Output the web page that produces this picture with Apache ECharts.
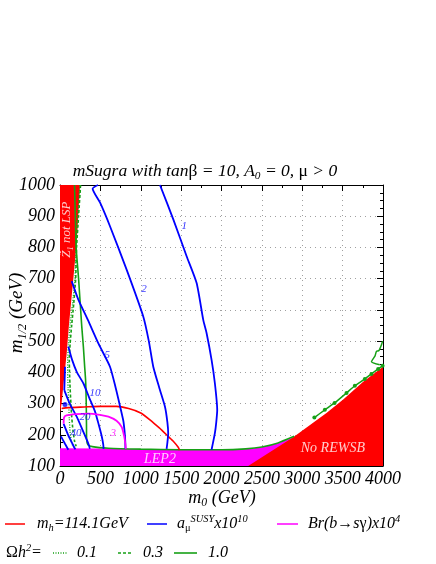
<!DOCTYPE html>
<html>
<head>
<meta charset="utf-8">
<script src="https://cdn.jsdelivr.net/npm/echarts@6.0.0/dist/echarts.min.js"></script>
<style>html,body{margin:0;padding:0;background:#fff;}#chart{width:436px;height:564px;}</style>
</head>
<body>
<div id="chart"></div>
<script>
// ---------------- data (m0, m1/2) in GeV ----------------
const xMin = 0, xMax = 4000, xStep = 500;
const yMin = 100, yMax = 1000, yStep = 100;

const stauRegion  = [[0,270],[20,300],[40,354],[83,461],[111,552],[165,700],[205,810],[248,1000],[0,1000]];
const lep2Region  = [[0,100],[0,157],[500,156],[1000,154],[1500,152],[2000,152],[2300,154],[2500,160],[2700,173],[2900,193],[3000,205],[3000,100]];
const rewsbRegion = [[2330,100],[2888,192],[3300,270],[3507,313],[3755,370],[4000,418],[4000,100]];

const mhContour = [[20,284],[100,287],[300,289],[500,291],[700,291],[850,284],[1000,270],[1114,248],[1230,222],[1320,200],[1400,180],[1464,160],[1480,151]];

const amu1  = [[1238,1000],[1403,890],[1568,772],[1692,686],[1774,568],[1815,526],[1877,440],[1918,365],[1947,279],[1935,240],[1918,205],[1877,152]];
const amu2  = [[470,1000],[404,988],[495,944],[619,868],[825,729],[1031,579],[1100,500],[1155,418],[1230,350],[1300,290],[1330,240],[1340,204],[1330,175],[1320,155]];
const amu5  = [[145,692],[227,633],[345,568],[480,490],[619,418],[690,350],[745,290],[784,245],[800,210],[808,180],[810,155]];
const amu10 = [[103,483],[150,440],[210,400],[289,365],[360,320],[433,275],[480,232],[516,196],[535,170],[540,155]];
const amu20 = [[53,343],[120,300],[207,258],[280,215],[330,185],[360,165],[370,155]];
const amuEdge = [[62,418],[58,380],[53,343]];
const amu40a = [[12,195],[60,172],[103,152]];
const amu40b = [[45,235],[100,200],[160,168],[190,153]];
const amuDot = [[62,297]];

const bsg3 = [[45,235],[50,255],[80,262],[200,266],[350,268],[495,264],[600,258],[700,245],[763,225],[795,195],[810,170],[815,155]];

const omega01 = [[245,1000],[220,900],[198,800],[185,700],[155,620],[125,552],[105,490],[95,440],[95,400],[100,350],[108,300],[115,250],[125,210],[140,180],[160,163]];
const omega03 = [[255,1000],[230,900],[205,800],[194,700],[170,620],[145,552],[125,490],[115,440],[118,400],[125,350],[135,300],[145,258],[160,215],[180,180],[200,163]];
const omega10 = [[180,1000],[190,900],[200,800],[230,700],[268,552],[290,480],[305,420],[318,370],[325,300],[328,230],[330,185],[345,168],[400,162],[600,157],[1000,154],[1500,152],[2000,152],[2300,155],[2500,161],[2700,174],[2900,195]];
const omegaFocus = [[3150,255],[3280,280],[3400,302],[3548,334],[3651,357],[3775,379],[3857,395],[3940,411],[3995,421]];
const omegaWiggle = [[3960,424],[3857,434],[3900,452],[3919,467],[3950,470],[3981,488],[3995,500]];

const amuLabels = [[1540,868,'1'],[1040,665,'2'],[585,456,'5'],[433,335,'10'],[309,256,'20'],[198,204,'40']];
const bsgLabels = [[660,204,'3']];
const regionLabels = [[3379,157,'No REWSB'],[1238,121,'LEP2']];
const stauLabel = [[87,857]];

// ---------------- styling ----------------
const FONT = '"Liberation Serif", "Times New Roman", serif';
const RED = '#ff0000', BLUE = '#0000ff', MAG = '#ff00ff', GREEN = '#16a016';

function richSet(size, color) {
  const base = {fontFamily: FONT, color: color, fontSize: size, lineHeight: size * 1.2};
  return {
    a: Object.assign({}, base, {fontStyle: 'italic'}),
    u: Object.assign({}, base, {fontStyle: 'normal'}),
    s: Object.assign({}, base, {fontStyle: 'italic', fontSize: size * 0.65, lineHeight: size * 0.5, verticalAlign: 'bottom'}),
    us: Object.assign({}, base, {fontStyle: 'normal', fontSize: size * 0.65, lineHeight: size * 0.5, verticalAlign: 'bottom'}),
    p: Object.assign({}, base, {fontStyle: 'italic', fontSize: size * 0.65, lineHeight: size * 0.5, verticalAlign: 'top'})
  };
}

function regionSeries(name, pts, color, z) {
  return {
    name: name, type: 'custom', coordinateSystem: 'cartesian2d', data: pts, z: z,
    silent: true, clip: true, animation: false,
    renderItem: function (params, api) {
      if (params.dataIndex !== 0) return;
      const points = pts.map(function (p) { return api.coord(p); });
      return {type: 'polygon', shape: {points: points}, style: {fill: color}};
    }
  };
}
function lineSeries(name, pts, color, width, type, z) {
  return {
    name: name, type: 'line', data: pts, symbol: 'none', showSymbol: false, smooth: 0.2,
    lineStyle: {color: color, width: width, type: type}, z: z, silent: true, animation: false, clip: true
  };
}
function labelSeries(list, color, size, z) {
  return {
    type: 'scatter', symbolSize: 0, z: z, silent: true, animation: false,
    data: list.map(function (l) { return {value: [l[0], l[1]], name: l[2]}; }),
    label: {show: true, position: 'inside', formatter: '{a|{b}}', rich: richSet(size, color)}
  };
}

const axisLineStyle = {show: true, onZero: false, lineStyle: {color: '#000', width: 1}};
const gridDots = {show: true, lineStyle: {color: '#a0a0a0', type: [1, 4], width: 1}};
const tickLabel = {showMinLabel: true, showMaxLabel: true,
  formatter: function (v) { return '{a|' + v + '}'; }, rich: richSet(18, '#000')};

const chart = echarts.init(document.getElementById('chart'), null, {renderer: 'canvas'});

const option = {
  animation: false,
  backgroundColor: '#fff',
  grid: {left: 60, right: 53, top: 185, bottom: 98, containLabel: false},
  xAxis: [
    {type: 'value', position: 'bottom', min: xMin, max: xMax, interval: xStep,
     axisLine: axisLineStyle, axisTick: {inside: true, length: 6, lineStyle: {color: '#000'}},
     minorTick: {show: true, splitNumber: 2, length: 3, lineStyle: {color: '#000'}},
     axisLabel: Object.assign({margin: 2}, tickLabel), splitLine: gridDots},
    {type: 'value', position: 'top', min: xMin, max: xMax, interval: xStep,
     axisLine: axisLineStyle, axisTick: {inside: true, length: 6, lineStyle: {color: '#000'}},
     minorTick: {show: true, splitNumber: 2, length: 3, lineStyle: {color: '#000'}},
     axisLabel: {show: false}, splitLine: {show: false}}
  ],
  yAxis: [
    {type: 'value', position: 'left', min: yMin, max: yMax, interval: yStep,
     axisLine: axisLineStyle, axisTick: {inside: true, length: 6, lineStyle: {color: '#000'}},
     minorTick: {show: true, splitNumber: 4, length: 3, lineStyle: {color: '#000'}},
     axisLabel: Object.assign({margin: 5}, tickLabel), splitLine: gridDots},
    {type: 'value', position: 'right', min: yMin, max: yMax, interval: yStep,
     axisLine: axisLineStyle, axisTick: {inside: true, length: 6, lineStyle: {color: '#000'}},
     minorTick: {show: true, splitNumber: 4, length: 3, lineStyle: {color: '#000'}},
     axisLabel: {show: false}, splitLine: {show: false}}
  ],
  series: [
    regionSeries('LEP2', lep2Region, MAG, 1),
    regionSeries('No REWSB', rewsbRegion, RED, 2),
    regionSeries('stau LSP', stauRegion, RED, 2),
    lineSeries('mh', mhContour, RED, 1.6, 'solid', 5),
    lineSeries('amu1', amu1, BLUE, 1.8, 'solid', 5),
    lineSeries('amu2', amu2, BLUE, 1.8, 'solid', 5),
    lineSeries('amu5', amu5, BLUE, 1.8, 'solid', 5),
    lineSeries('amu10', amu10, BLUE, 1.8, 'solid', 5),
    lineSeries('amu20', amu20, BLUE, 1.8, 'solid', 5),
    lineSeries('amuEdge', amuEdge, BLUE, 1.8, 'solid', 5),
    lineSeries('amu40a', amu40a, BLUE, 1.8, 'solid', 5),
    lineSeries('amu40b', amu40b, BLUE, 1.8, 'solid', 5),
    lineSeries('bsg3', bsg3, MAG, 1.8, 'solid', 5),
    lineSeries('omega01', omega01, GREEN, 1.3, [1, 1.5], 4),
    lineSeries('omega03', omega03, GREEN, 1.6, [3, 2], 4),
    lineSeries('omega10', omega10, GREEN, 1.6, 'solid', 4),
    {type: 'line', data: omegaFocus, symbol: 'circle', symbolSize: 4, showSymbol: true, smooth: 0.2,
     itemStyle: {color: GREEN}, lineStyle: {color: GREEN, width: 1.5}, z: 4, silent: true, animation: false},
    lineSeries('omegaWiggle', omegaWiggle, GREEN, 1.5, 'solid', 4),
    {type: 'scatter', data: amuDot, symbol: 'circle', symbolSize: 5, itemStyle: {color: BLUE}, z: 6, silent: true, animation: false},
    labelSeries(amuLabels, BLUE, 11, 8),
    labelSeries(bsgLabels, MAG, 11, 8),
    labelSeries(regionLabels, '#ffffff', 14, 8),
    {type: 'scatter', symbolSize: 0, z: 8, silent: true, animation: false,
     data: stauLabel.map(function (p) { return {value: p}; }),
     label: {show: true, position: 'inside', rotate: 90,
       formatter: '{a|Z̃}{s|1}{a| not LSP}', rich: richSet(13, '#ffffff')}}
  ],
  graphic: [
    // title
    {type: 'text', x: 205, y: 171, silent: true,
     style: {text: '{a|mSugra with tan}{u|β}{a| = 10, A}{s|0}{a| = 0, }{u|μ}{a| > 0}', rich: richSet(17.5, '#000'), align: 'center', verticalAlign: 'middle'}},
    // y axis name
    {type: 'text', x: 17, y: 313, rotation: Math.PI / 2, silent: true,
     style: {text: '{a|m}{s|1/2}{a| (GeV)}', rich: richSet(19, '#000'), align: 'center', verticalAlign: 'middle'}},
    // x axis name
    {type: 'text', x: 222, y: 498, silent: true,
     style: {text: '{a|m}{s|0}{a| (GeV)}', rich: richSet(18, '#000'), align: 'center', verticalAlign: 'middle'}},
    // legend row 1
    {type: 'line', shape: {x1: 5, y1: 524, x2: 25, y2: 524}, style: {stroke: RED, lineWidth: 1.5}},
    {type: 'text', x: 37, y: 524, style: {text: '{a|m}{s|h}{a|=114.1GeV}', rich: richSet(16, '#000'), align: 'left', verticalAlign: 'middle'}},
    {type: 'line', shape: {x1: 147, y1: 524, x2: 167, y2: 524}, style: {stroke: BLUE, lineWidth: 1.5}},
    {type: 'text', x: 177, y: 524, style: {text: '{a|a}{us|μ}{p|SUSY}{a|x10}{p|10}', rich: richSet(16, '#000'), align: 'left', verticalAlign: 'middle'}},
    {type: 'line', shape: {x1: 277, y1: 524, x2: 298, y2: 524}, style: {stroke: MAG, lineWidth: 1.5}},
    {type: 'text', x: 308, y: 524, style: {text: '{a|Br(b}{u|→}{a|s}{u|γ}{a|)x10}{p|4}', rich: richSet(16, '#000'), align: 'left', verticalAlign: 'middle'}},
    // legend row 2
    {type: 'text', x: 6, y: 553, style: {text: '{u|Ω}{a|h}{p|2}{a|=}', rich: richSet(16, '#000'), align: 'left', verticalAlign: 'middle'}},
    {type: 'line', shape: {x1: 53, y1: 553, x2: 67, y2: 553}, style: {stroke: GREEN, lineWidth: 1.3, lineDash: [1, 1.5]}},
    {type: 'text', x: 77, y: 553, style: {text: '{a|0.1}', rich: richSet(16, '#000'), align: 'left', verticalAlign: 'middle'}},
    {type: 'line', shape: {x1: 118, y1: 553, x2: 133, y2: 553}, style: {stroke: GREEN, lineWidth: 1.6, lineDash: [3, 2]}},
    {type: 'text', x: 143, y: 553, style: {text: '{a|0.3}', rich: richSet(16, '#000'), align: 'left', verticalAlign: 'middle'}},
    {type: 'line', shape: {x1: 174, y1: 553, x2: 197, y2: 553}, style: {stroke: GREEN, lineWidth: 1.6}},
    {type: 'text', x: 208, y: 553, style: {text: '{a|1.0}', rich: richSet(16, '#000'), align: 'left', verticalAlign: 'middle'}}
  ]
};
chart.setOption(option);
</script>
</body>
</html>
